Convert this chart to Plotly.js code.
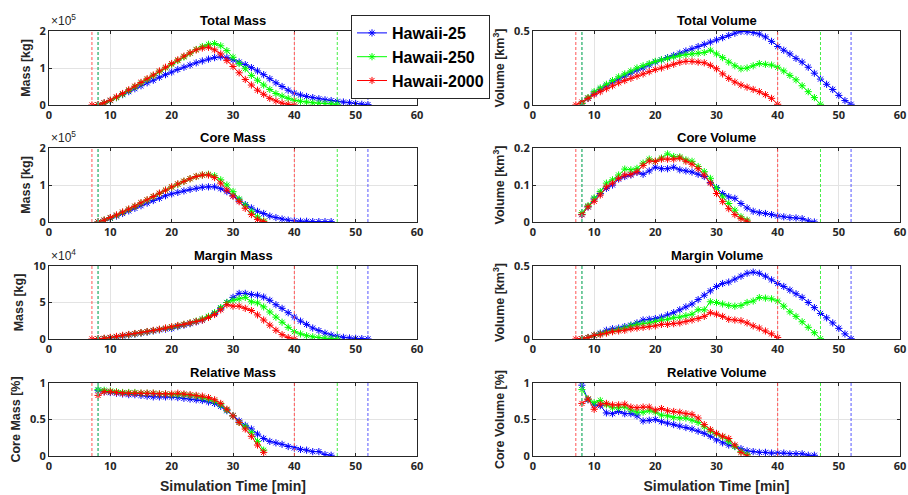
<!DOCTYPE html>
<html><head><meta charset="utf-8">
<script src="https://cdn.plot.ly/plotly-3.0.1.min.js"></script>
<style>html,body{margin:0;padding:0;background:#fff}#plot{width:908px;height:495px}</style>
</head><body><div id="plot"></div>
<script>
// ---- time axes (minutes) ----
const t2000 = [7,8,9,10,11,12,13,14,15,16,17,18,19,20,21,22,23,24,25,26,27,28,29,30,31,32,33,34,35,36,37,38,39,40];
const t250  = [8,9,10,11,12,13,14,15,16,17,18,19,20,21,22,23,24,25,26,27,28,29,30,31,32,33,34,35,36,37,38,39,40,41,42,43,44,45,46,47];
const t25   = [8,9,10,11,12,13,14,15,16,17,18,19,20,21,22,23,24,25,26,27,28,29,30,31,32,33,34,35,36,37,38,39,40,41,42,43,44,45,46,47,48,49,50,51,52];
const tc2000 = [8,9,10,11,12,13,14,15,16,17,18,19,20,21,22,23,24,25,26,27,28,29,30,31,32,33,34,35];
const tc250  = [8,9,10,11,12,13,14,15,16,17,18,19,20,21,22,23,24,25,26,27,28,29,30,31,32,33,34,35];
const tc25   = [8,9,10,11,12,13,14,15,16,17,18,19,20,21,22,23,24,25,26,27,28,29,30,31,32,33,34,35,36,37,38,39,40,41,42,43,44,45,46];

// ---- Total Mass (x1e5 kg) ----
const totalMass25   = [0,0.05,0.12,0.2,0.28,0.36,0.44,0.52,0.6,0.67,0.75,0.82,0.89,0.96,1.02,1.08,1.14,1.19,1.24,1.28,1.3,1.28,1.22,1.16,1.09,1.01,0.92,0.82,0.71,0.6,0.5,0.4,0.32,0.27,0.23,0.2,0.17,0.14,0.12,0.1,0.08,0.06,0.04,0.02,0.01];
const totalMass250  = [0,0.05,0.12,0.2,0.29,0.39,0.49,0.59,0.69,0.79,0.9,1.0,1.1,1.2,1.3,1.4,1.5,1.58,1.64,1.66,1.6,1.47,1.29,1.12,0.98,0.8,0.67,0.54,0.42,0.31,0.24,0.18,0.13,0.1,0.08,0.06,0.05,0.04,0.03,0.02];
const totalMass2000 = [0,0.01,0.06,0.13,0.22,0.31,0.41,0.51,0.61,0.71,0.81,0.92,1.02,1.12,1.22,1.32,1.41,1.49,1.54,1.56,1.49,1.38,1.2,1.04,0.87,0.69,0.54,0.4,0.29,0.18,0.11,0.05,0.02,0];

// ---- Total Volume (km^3) ----
const totalVol25   = [0.01,0.045,0.08,0.105,0.13,0.155,0.175,0.195,0.215,0.235,0.25,0.27,0.29,0.305,0.32,0.335,0.35,0.365,0.38,0.395,0.41,0.425,0.44,0.455,0.47,0.485,0.497,0.495,0.49,0.48,0.46,0.43,0.395,0.37,0.345,0.315,0.29,0.255,0.215,0.175,0.14,0.105,0.065,0.03,0.005];
const totalVol250  = [0.01,0.05,0.09,0.115,0.14,0.165,0.19,0.21,0.23,0.25,0.265,0.28,0.295,0.305,0.315,0.325,0.335,0.34,0.345,0.35,0.355,0.37,0.345,0.32,0.29,0.265,0.245,0.25,0.265,0.28,0.275,0.27,0.255,0.23,0.2,0.17,0.13,0.09,0.05,0.005];
const totalVol2000 = [0,0.02,0.045,0.07,0.09,0.11,0.13,0.15,0.165,0.18,0.195,0.21,0.225,0.24,0.25,0.262,0.275,0.288,0.295,0.295,0.29,0.285,0.268,0.245,0.21,0.18,0.155,0.135,0.12,0.105,0.09,0.07,0.045,0.005];

// ---- Core Mass (x1e5 kg) ----
const coreMass25   = [0,0.04,0.1,0.16,0.23,0.3,0.37,0.44,0.51,0.58,0.64,0.71,0.76,0.8,0.84,0.88,0.91,0.94,0.95,0.95,0.9,0.82,0.71,0.59,0.47,0.38,0.29,0.23,0.16,0.12,0.08,0.05,0.03,0.02,0.02,0.01,0.01,0.01,0.01];
const coreMass250  = [0,0.05,0.11,0.18,0.26,0.34,0.42,0.51,0.59,0.68,0.77,0.86,0.94,1.02,1.1,1.17,1.23,1.27,1.29,1.25,1.14,1.0,0.82,0.62,0.45,0.29,0.14,0.03];
const coreMass2000 = [0,0.05,0.12,0.19,0.27,0.35,0.43,0.52,0.6,0.69,0.78,0.86,0.95,1.03,1.1,1.17,1.23,1.27,1.27,1.2,1.05,0.86,0.7,0.55,0.37,0.2,0.07,0.01];

// ---- Core Volume (km^3) ----
const coreVol25   = [0.02,0.041,0.062,0.077,0.091,0.1,0.116,0.123,0.127,0.134,0.129,0.138,0.148,0.144,0.144,0.148,0.141,0.138,0.135,0.129,0.123,0.107,0.093,0.077,0.068,0.064,0.05,0.038,0.029,0.025,0.023,0.02,0.016,0.014,0.012,0.011,0.009,0.003,0.0];
const coreVol250  = [0.025,0.044,0.065,0.082,0.105,0.114,0.127,0.143,0.141,0.145,0.159,0.17,0.164,0.173,0.184,0.177,0.176,0.168,0.164,0.15,0.136,0.118,0.091,0.068,0.05,0.032,0.014,0.005];
const coreVol2000 = [0.02,0.041,0.056,0.073,0.095,0.105,0.118,0.127,0.129,0.136,0.153,0.165,0.164,0.17,0.17,0.17,0.173,0.164,0.156,0.144,0.127,0.105,0.077,0.055,0.036,0.02,0.009,0.002];

// ---- Margin Mass (x1e4 kg) ----
const marginMass25   = [0,0.05,0.15,0.28,0.4,0.55,0.68,0.82,0.95,1.1,1.25,1.35,1.45,1.7,1.9,2.1,2.35,2.6,3.0,3.5,4.2,5.0,5.7,6.25,6.25,6.1,6.0,5.75,5.3,4.7,4.2,3.6,3.0,2.45,2.0,1.5,1.15,0.8,0.55,0.37,0.23,0.14,0.09,0.05,0.01];
const marginMass250  = [0,0.06,0.18,0.3,0.45,0.58,0.72,0.86,1.0,1.15,1.3,1.45,1.62,1.8,2.0,2.2,2.45,2.75,3.1,3.6,4.3,5.0,5.3,5.5,5.7,5.1,4.95,4.4,3.7,3.0,2.3,1.6,1.0,0.7,0.45,0.3,0.2,0.1,0.05,0.01];
const marginMass2000 = [0,0.02,0.1,0.22,0.35,0.5,0.62,0.75,0.88,1.02,1.18,1.33,1.5,1.68,1.85,2.0,2.2,2.4,2.6,2.95,3.35,4.0,4.7,4.5,4.5,4.2,3.9,3.3,2.6,1.9,1.2,0.6,0.2,0.02];

// ---- Margin Volume (km^3) ----
const marginVol25   = [0,0.01,0.025,0.04,0.06,0.07,0.075,0.085,0.095,0.11,0.13,0.135,0.14,0.15,0.165,0.18,0.2,0.22,0.24,0.27,0.3,0.33,0.36,0.38,0.39,0.41,0.43,0.45,0.458,0.45,0.43,0.405,0.38,0.36,0.335,0.31,0.285,0.25,0.215,0.175,0.145,0.11,0.073,0.035,0.002];
const marginVol250  = [0,0.01,0.025,0.035,0.045,0.055,0.065,0.075,0.09,0.1,0.105,0.11,0.12,0.13,0.135,0.145,0.15,0.16,0.17,0.2,0.2,0.255,0.25,0.24,0.23,0.225,0.23,0.25,0.26,0.284,0.28,0.275,0.26,0.225,0.186,0.155,0.118,0.08,0.043,0.002];
const marginVol2000 = [0,0.003,0.01,0.025,0.03,0.04,0.05,0.055,0.06,0.07,0.075,0.08,0.085,0.09,0.1,0.1,0.105,0.11,0.12,0.13,0.14,0.155,0.18,0.17,0.155,0.135,0.13,0.125,0.11,0.09,0.075,0.055,0.035,0.01];

// ---- Relative Mass (core fraction) ----
const relMass25   = [0.9,0.88,0.87,0.86,0.85,0.84,0.84,0.83,0.82,0.81,0.81,0.81,0.81,0.8,0.79,0.78,0.77,0.76,0.74,0.72,0.68,0.62,0.55,0.48,0.42,0.37,0.3,0.24,0.2,0.18,0.16,0.13,0.11,0.09,0.08,0.06,0.06,0.02,0.01];
const relMass250  = [0.91,0.9,0.89,0.88,0.87,0.87,0.87,0.86,0.86,0.86,0.85,0.85,0.84,0.84,0.84,0.83,0.82,0.8,0.78,0.75,0.7,0.63,0.55,0.46,0.4,0.32,0.2,0.08];
const relMass2000 = [0.83,0.88,0.88,0.87,0.86,0.86,0.86,0.86,0.86,0.86,0.85,0.85,0.85,0.86,0.85,0.84,0.83,0.82,0.8,0.77,0.72,0.64,0.55,0.46,0.37,0.27,0.15,0.05];

// ---- Relative Volume (core fraction) ----
const relVol25   = [0.97,0.77,0.7,0.69,0.59,0.58,0.61,0.58,0.58,0.55,0.48,0.49,0.5,0.47,0.45,0.43,0.41,0.39,0.37,0.34,0.31,0.27,0.22,0.18,0.15,0.13,0.1,0.07,0.06,0.05,0.05,0.04,0.04,0.04,0.03,0.03,0.03,0.01,0.01];
const relVol250  = [0.91,0.78,0.73,0.76,0.7,0.66,0.66,0.67,0.63,0.6,0.6,0.62,0.6,0.56,0.55,0.53,0.52,0.52,0.49,0.46,0.4,0.34,0.3,0.26,0.2,0.13,0.06,0.02];
const relVol2000 = [0.72,0.78,0.64,0.71,0.72,0.7,0.7,0.71,0.67,0.66,0.67,0.67,0.63,0.65,0.62,0.61,0.6,0.58,0.57,0.52,0.43,0.36,0.31,0.27,0.24,0.15,0.05,0.0];

// ---- event times (dashed markers): start, end ----
const events25   = [8, 52];
const events250  = [8, 47];
const events2000 = [7, 40];
const refLevel = [0.5];

const seriesNames = ['Hawaii-25','Hawaii-250','Hawaii-2000'];
const colors = ['#0000ff','#00ff00','#ff0000'];
const dashColors = ['#5555ff','#44ee44','#ff5555'];

const titles = ['Total Mass','Total Volume','Core Mass','Core Volume','Margin Mass','Margin Volume','Relative Mass','Relative Volume'];
const yTitles = ['Mass [kg]','Volume [km<sup>3</sup>]','Mass [kg]','Volume [km<sup>3</sup>]','Mass [kg]','Volume [km<sup>3</sup>]','Core Mass [%]','Core Volume [%]'];
const yTicks = [[0,1,2],[0,0.5],[0,1,2],[0,0.1,0.2],[0,5,10],[0,0.5],[0,0.5,1],[0,0.5,1]];
const exponents = ['\u00d710<sup>5</sup>',null,'\u00d710<sup>5</sup>',null,'\u00d710<sup>4</sup>',null,null,null];
const xTicks = [0,10,20,30,40,50,60];

const panels = [
  [[t25,totalMass25],[t250,totalMass250],[t2000,totalMass2000]],
  [[t25,totalVol25],[t250,totalVol250],[t2000,totalVol2000]],
  [[tc25,coreMass25],[tc250,coreMass250],[tc2000,coreMass2000]],
  [[tc25,coreVol25],[tc250,coreVol250],[tc2000,coreVol2000]],
  [[t25,marginMass25],[t250,marginMass250],[t2000,marginMass2000]],
  [[t25,marginVol25],[t250,marginVol250],[t2000,marginVol2000]],
  [[tc25,relMass25],[tc250,relMass250],[tc2000,relMass2000]],
  [[tc25,relVol25],[tc250,relVol250],[tc2000,relVol2000]]
];

const W = 908, H = 495;
const colPx = [[49,417],[533,900]];
const rowPx = [[31,105],[148,222],[266,339],[383,456]];

const tickFont = {family:'Open Sans, Liberation Sans, sans-serif', size:11, color:'#262626', weight:'bold'};
const titleFont = {family:'Liberation Sans, Arial, sans-serif', size:13, color:'#000', weight:'bold'};

const data = [];
const layout = {
  width: W, height: H,
  margin: {l:0, r:0, t:0, b:0},
  paper_bgcolor: '#fff', plot_bgcolor: '#fff',
  showlegend: true,
  legend: {x: 351/W, y: 1-15/H, xanchor:'left', yanchor:'top', bgcolor:'#fff', bordercolor:'#262626', borderwidth:1,
           font:{family:'Liberation Sans, Arial, sans-serif', size:16, color:'#000', weight:'bold'}, tracegroupgap:0, itemwidth:30},
  shapes: [], annotations: []
};

const eventSets = [events25, events250, events2000];

for (let p = 0; p < 8; p++) {
  const r = Math.floor(p/2), c = p % 2;
  const ax = p === 0 ? '' : String(p+1);
  const xa = 'x'+ax, ya = 'y'+ax;
  const xd = [colPx[c][0]/W, colPx[c][1]/W];
  const yd = [1 - rowPx[r][1]/H, 1 - rowPx[r][0]/H];
  const yt = yTicks[p];
  const xaxis = {
    domain: xd, anchor: ya, range: [0,60], tickvals: xTicks, ticks:'inside', ticklen:3, tickcolor:'#262626',
    showline:true, linecolor:'#262626', linewidth:1, mirror:'ticks', showgrid:true, gridcolor:'#e3e3e3', gridwidth:1,
    zeroline:false, tickfont: tickFont, fixedrange:true
  };
  if (r === 3) xaxis.title = {text:'Simulation Time [min]', font:{family:'Liberation Sans, Arial, sans-serif', size:14, color:'#262626', weight:'bold'}, standoff:8};
  layout['xaxis'+ax] = xaxis;
  layout['yaxis'+ax] = {
    domain: yd, anchor: xa, range: [yt[0], yt[yt.length-1]], tickvals: yt, ticks:'inside', ticklen:3, tickcolor:'#262626',
    showline:true, linecolor:'#262626', linewidth:1, mirror:'ticks', showgrid:true, gridcolor:'#e3e3e3', gridwidth:1,
    zeroline:false, tickfont: tickFont, fixedrange:true,
    title: {text: yTitles[p], font:{family:'Liberation Sans, Arial, sans-serif', size:12.5, color:'#262626', weight:'bold'}, standoff:6}
  };
  layout.annotations.push({text: titles[p], xref:'paper', yref:'paper', x:(xd[0]+xd[1])/2, y: yd[1], xanchor:'center', yanchor:'bottom', yshift:1, showarrow:false, font:titleFont});
  if (exponents[p]) {
    layout.annotations.push({text: exponents[p], xref:'paper', yref:'paper', x: xd[0], y: yd[1], xanchor:'left', yanchor:'bottom', yshift:1, showarrow:false,
      font:{family:'Liberation Sans, Arial, sans-serif', size:12, color:'#262626'}});
  }
  for (let s = 0; s < 3; s++) {
    eventSets[s].forEach(t => {
      layout.shapes.push({type:'line', xref:xa, yref: ya+' domain', x0:t, x1:t, y0:0, y1:1, layer:'above',
        line:{color: dashColors[s], width:1, dash:'3px,2px'}});
    });
  }
  if (r === 3) {
    layout.shapes.push({type:'line', xref: xa+' domain', yref: ya, x0:0, x1:1, y0:refLevel[0], y1:refLevel[0], layer:'below', line:{color:'#000', width:1}});
  }
  for (let s = 0; s < 3; s++) {
    const [tx, vy] = panels[p][s];
    data.push({
      type:'scatter', mode:'lines+markers', x: tx, y: vy, xaxis: xa, yaxis: ya,
      name: seriesNames[s], showlegend: p === 0, legendgroup: seriesNames[s],
      line: {color: colors[s], width: 1},
      marker: {symbol:'asterisk-open', size:6, color: colors[s], line:{color: colors[s], width:1}},
      cliponaxis: true
    });
  }
}

Plotly.newPlot('plot', data, layout, {displayModeBar:false, staticPlot:true});
</script>
</body></html>
